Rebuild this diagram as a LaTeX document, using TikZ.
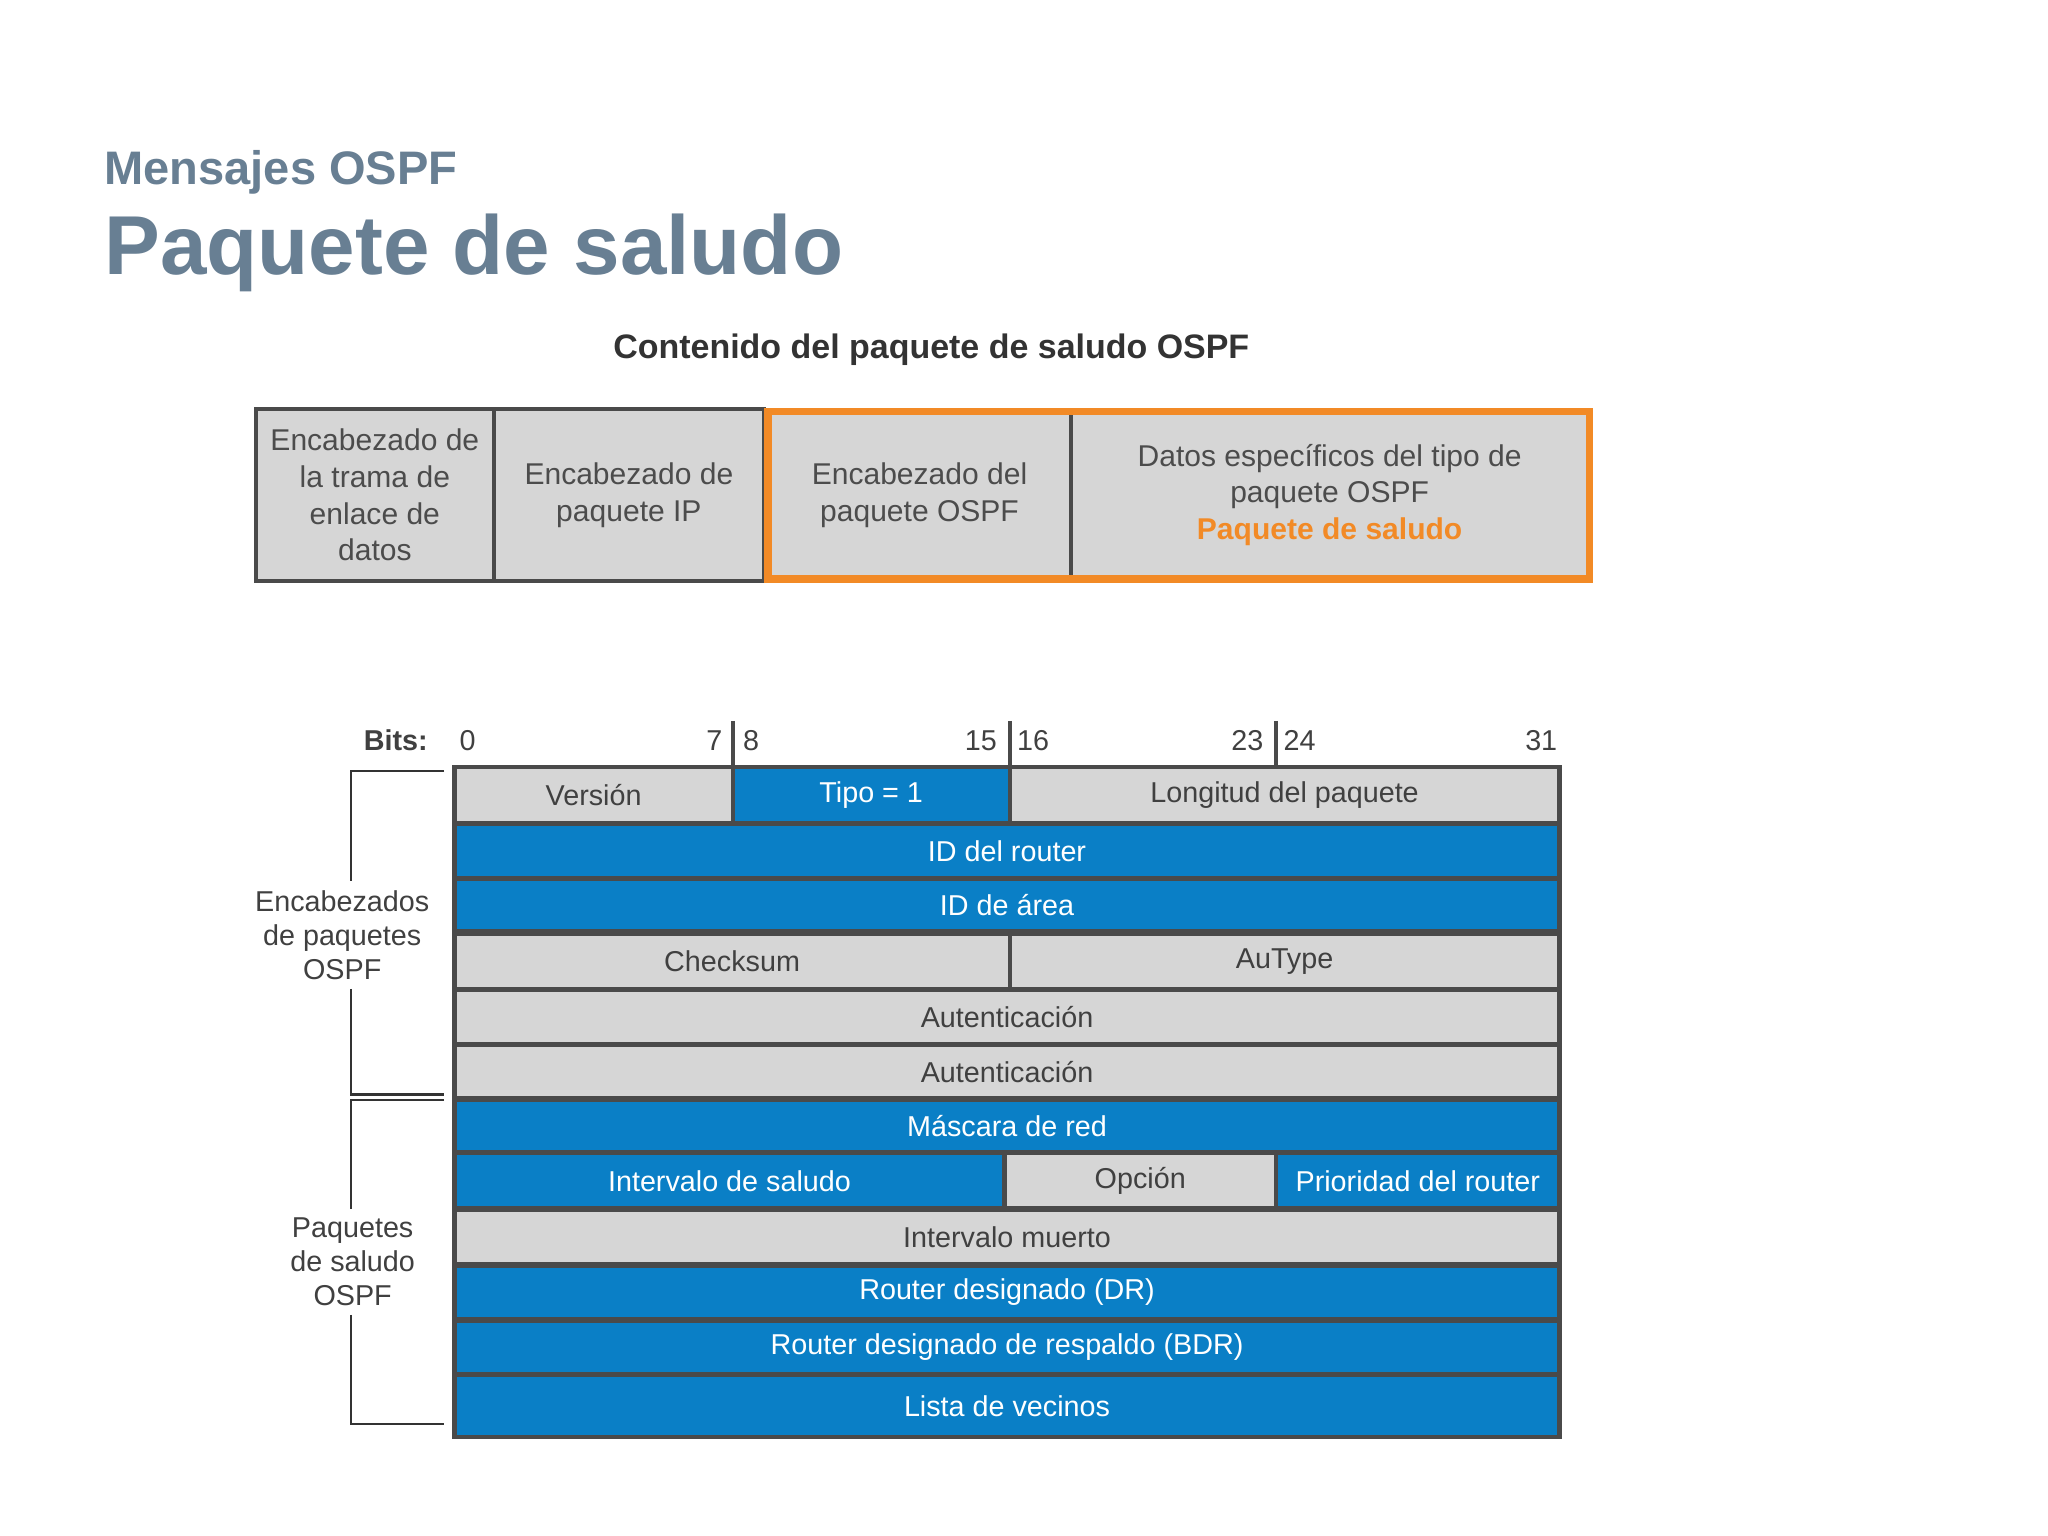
\documentclass[tikz,border=0pt]{standalone}
\usepackage{fontspec}
\setmainfont{Liberation Sans}
\usetikzlibrary{fit}
\definecolor{titc}{HTML}{687F93}
\definecolor{cgray}{HTML}{D6D6D6}
\definecolor{cblue}{HTML}{0A7FC6}
\definecolor{cedge}{HTML}{4A4A4A}
\definecolor{corange}{HTML}{F28A26}
\tikzset{
 g/.style={fill=cgray,draw=cedge,line width=1.6pt,inner sep=0pt},
 b/.style={fill=cblue,draw=cedge,line width=1.6pt,inner sep=0pt},
 tg/.style={font=\fontsize{11}{13}\selectfont,text=black!75},
 tb/.style={font=\fontsize{11}{13}\selectfont,text=white},
 hb/.style={fill=cgray,draw=cedge,line width=1.6pt,inner sep=0pt},
 ht/.style={font=\fontsize{11.5}{14}\selectfont,text=black!70,align=center},
 bit/.style={font=\fontsize{11}{13}\selectfont,text=black!75},
 br/.style={draw=black!80,line width=0.8pt}
}
\newcommand\mycell[7]{\node[#6,fit={(#2,#3)(#4,#5)}] (#1) {}; \node[#7] at (#1.center) {\strut};}
\newcommand\mc[8]{\node[#6,fit={(#2,#3)(#4,#5)}] (#1) {}; \node[#7] at (#1.center) {#8};}
\begin{document}
\begin{tikzpicture}[x=0.5pt,y=-0.5pt]
\useasboundingbox[fill=white] (0,0) rectangle (1568,1176);
\node[anchor=base west,font=\bfseries\fontsize{18}{20}\selectfont,text=titc] (t1) at (73,141) {Mensajes OSPF};
\node[anchor=base west,font=\bfseries\fontsize{32}{36}\selectfont,text=titc] (t2) at (73,210) {Paquete de saludo};
\node[font=\bfseries\fontsize{13}{15}\selectfont,text=black!80] (st) at (713,268) {Contenido del paquete de saludo OSPF};
% top boxes
\mc{h1}{196}{313}{378}{445}{hb}{ht}{Encabezado de\\la trama de\\enlace de\\datos}
\mc{h2}{378}{313}{585}{445}{hb}{ht}{Encabezado de\\paquete IP}
\mc{h3}{588}{316}{820}{442}{hb}{ht}{Encabezado del\\paquete OSPF}
\mc{h4}{820}{316}{1216}{442}{hb}{ht}{Datos específicos del tipo de\\paquete OSPF\\\textcolor{corange}{\bfseries Paquete de saludo}}
\node[draw=corange,line width=3pt,inner sep=0pt,fit={(588,315)(1217,443)}] (ob) {};
% bits
\node[bit,font=\bfseries\fontsize{11}{13}\selectfont] (bl) at (303,567) {Bits:};
\node[bit] (b0) at (358,567) {0};
\node[bit] (b7) at (547,567) {7};
\node[bit] (b8) at (575,567) {8};
\node[bit] (b15) at (751,567) {15};
\node[bit] (b16) at (791,567) {16};
\node[bit] (b23) at (955,567) {23};
\node[bit] (b24) at (995,567) {24};
\node[bit] (b31) at (1180,567) {31};
\foreach \x in {561,773,977} \draw[line width=1.6pt,cedge] (\x,552) -- (\x,586);
% table
\mc{r1a}{348}{587}{561}{630}{g}{tg}{Versión}
\mc{r1b}{561}{587}{773}{630}{b}{tb}{Tipo = 1}
\mc{r1c}{773}{587}{1194}{630}{g}{tg}{Longitud del paquete}
\mc{r2}{348}{631}{1194}{672}{b}{tb}{ID del router}
\mc{r3}{348}{673}{1194}{713}{b}{tb}{ID de área}
\mc{r4a}{348}{715}{773}{757}{g}{tg}{Checksum}
\mc{r4b}{773}{715}{1194}{757}{g}{tg}{AuType}
\mc{r5}{348}{758}{1194}{799}{g}{tg}{Autenticación}
\mc{r6}{348}{800}{1194}{841}{g}{tg}{Autenticación}
\mc{r7}{348}{842}{1194}{882}{b}{tb}{Máscara de red}
\mc{r8a}{348}{883}{769}{925}{b}{tb}{Intervalo de saludo}
\mc{r8b}{769}{883}{977}{925}{g}{tg}{Opción}
\mc{r8c}{977}{883}{1194}{925}{b}{tb}{Prioridad del router}
\mc{r9}{348}{926}{1194}{968}{g}{tg}{Intervalo muerto}
\mc{r10}{348}{969}{1194}{1010}{b}{tb}{Router designado (DR)}
\mc{r11}{348}{1011}{1194}{1052}{b}{tb}{Router designado de respaldo (BDR)}
\mc{r12}{348}{1053}{1194}{1100}{b}{tb}{Lista de vecinos}
% brackets
\node[tg,align=center] (l1) at (262,716) {Encabezados\\de paquetes\\OSPF};
\node[tg,align=center] (l2) at (270,966) {Paquetes\\de saludo\\OSPF};
\draw[br] (340,590) -- (269,590) -- (l1.north -| 269,0);
\draw[br] (l1.south -| 269,0) -- (269,838) -- (340,838);
\draw[br] (340,842) -- (269,842) -- (l2.north -| 269,0);
\draw[br] (l2.south -| 269,0) -- (269,1090) -- (340,1090);
\end{tikzpicture}
\end{document}
